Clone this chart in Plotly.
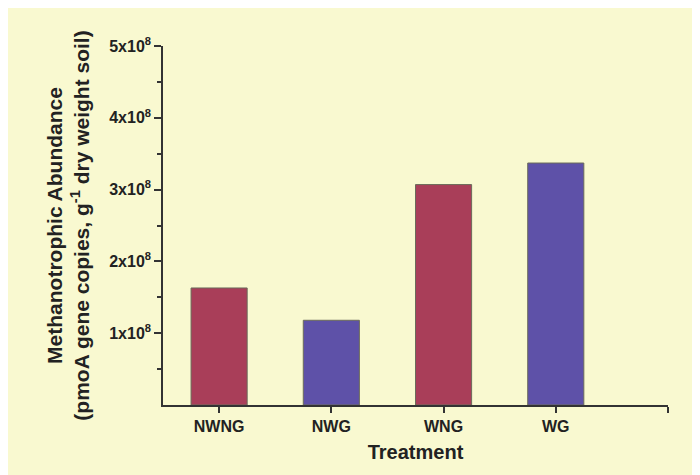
import plotly.graph_objects as go

categories = ["NWNG", "NWG", "WNG", "WG"]
values = [1.63e8, 1.18e8, 3.07e8, 3.37e8]
bar_colors = ["#A93E59", "#5E51A8"] * 2
y_tick_vals = [1e8, 2e8, 3e8, 4e8, 5e8]
y_tick_text = ["1x10<sup>8</sup>", "2x10<sup>8</sup>", "3x10<sup>8</sup>", "4x10<sup>8</sup>", "5x10<sup>8</sup>"]
y_minor_vals = [0.5e8, 1.5e8, 2.5e8, 3.5e8, 4.5e8]

positions = list(range(1, len(categories) + 1))

fig = go.Figure()
fig.add_trace(go.Bar(
    x=positions, y=values, width=0.5,
    marker=dict(color=bar_colors, line=dict(color="#6b6b5a", width=1)),
    showlegend=False,
))

font_family = "Liberation Sans, Arial, sans-serif"
axis_color = "#333333"
text_color = "#222222"

fig.update_layout(
    width=692, height=467,
    paper_bgcolor="#F9F9D0",
    plot_bgcolor="#F9F9D0",
    margin=dict(l=155, r=32, t=38, b=70),
    font=dict(family=font_family, color=text_color, size=15),
    xaxis=dict(
        range=[0.5, 5.0],
        tickmode="array",
        tickvals=positions + [5],
        ticktext=categories + [""],
        ticks="outside", ticklen=6, tickwidth=1.5, tickcolor=axis_color,
        showline=True, linecolor=axis_color, linewidth=1.5,
        showgrid=False, zeroline=False,
        tickfont=dict(size=16, family=font_family, color=text_color, weight="bold"),
        title=dict(text="<b>Treatment</b>",
                   font=dict(size=20, family=font_family, color=text_color),
                   standoff=11),
    ),
    yaxis=dict(
        range=[0, 5e8],
        tickmode="array",
        tickvals=y_tick_vals,
        ticktext=y_tick_text,
        ticks="outside", ticklen=7, tickwidth=1.5, tickcolor=axis_color,
        minor=dict(tickmode="array", tickvals=y_minor_vals,
                   ticks="outside", ticklen=4, tickwidth=1.5, tickcolor=axis_color),
        showline=True, linecolor=axis_color, linewidth=1.5,
        showgrid=False, zeroline=False,
        tickfont=dict(size=16, family=font_family, color=text_color, weight="bold"),
        title=dict(text="<b>Methanotrophic Abundance<br>(pmoA gene copies, g<sup>-1</sup> dry weight soil)</b>",
                   font=dict(size=21, family=font_family, color=text_color),
                   standoff=14),
    ),
)

fig.write_html("out.html")
